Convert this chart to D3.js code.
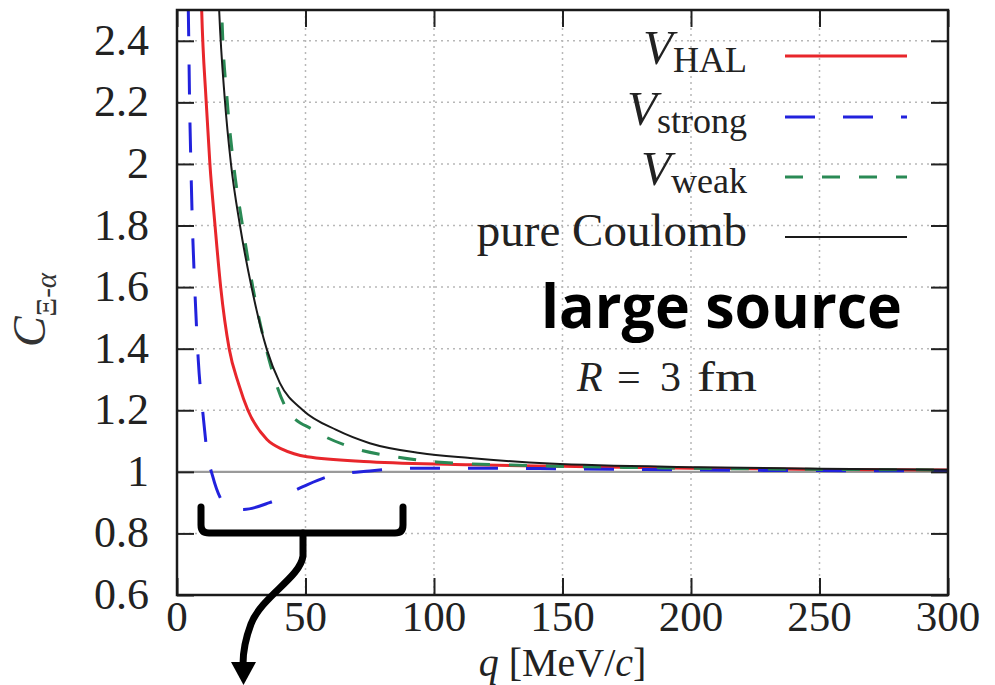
<!DOCTYPE html>
<html>
<head>
<meta charset="utf-8">
<script src="https://cdn.jsdelivr.net/npm/d3@7/dist/d3.min.js"></script>
<style>
  html, body { margin: 0; padding: 0; background: #fff; }
  svg { display: block; }
  .serif { font-family: 'Liberation Serif', 'DejaVu Serif', serif; }
</style>
</head>
<body>
<svg id="chart" width="995" height="685"></svg>
<script>
// ---- data ----
const xTicks = [0, 50, 100, 150, 200, 250, 300];
const yTicks = [0.6, 0.8, 1, 1.2, 1.4, 1.6, 1.8, 2, 2.2, 2.4];
const xGrid = [50, 100, 150, 200, 250];
const yGrid = [0.8, 1.2, 1.4, 1.6, 1.8, 2, 2.2, 2.4];

const qHAL = [9.0, 9.6, 11.3, 12.8, 14.8, 17.0, 20.3, 24.0, 27.6, 35, 41.3, 50.6, 75, 114, 150, 200, 250, 300];
const cHAL = [2.7, 2.5, 2.21, 2.0, 1.8, 1.6, 1.40, 1.285, 1.20, 1.105, 1.072, 1.049, 1.033, 1.023, 1.018, 1.012, 1.008, 1.006];

const qStrong = [3.6, 4.4, 4.9, 5.4, 6.0, 6.9, 8.3, 10.2, 11.6, 13.9, 18, 22, 26, 36, 49, 59.5, 75, 95, 120, 150, 200, 250, 300];
const cStrong = [2.7, 2.5, 2.2, 2.0, 1.8, 1.6, 1.36, 1.18, 1.07, 0.985, 0.90, 0.878, 0.878, 0.90, 0.952, 0.986, 1.003, 1.012, 1.012, 1.010, 1.006, 1.004, 1.003];

const qWeak = [16.8, 17.4, 19.5, 22, 25.5, 29.5, 35, 43, 53, 67, 85.6, 101, 130, 170, 220, 300];
const cWeak = [2.7, 2.5, 2.21, 2.0, 1.8, 1.6, 1.39, 1.20, 1.136, 1.082, 1.048, 1.032, 1.022, 1.015, 1.010, 1.006];

const qCoul = [15.5, 16.4, 18.6, 21, 24.5, 29, 35, 40, 49, 62, 75, 94.5, 114, 145, 203, 250, 300];
const cCoul = [2.7, 2.5, 2.21, 2.0, 1.8, 1.6, 1.396, 1.289, 1.20, 1.136, 1.093, 1.061, 1.045, 1.027, 1.015, 1.010, 1.007];

const seriesNames = ["HAL", "strong", "weak", "pure Coulomb"];
const seriesColors = ["#e8262b", "#2222dd", "#2a8a55", "#1a1a1a"];

// ---- layout ----
const svg = d3.select("#chart");
const L = 177, R = 948, T = 10, B = 595;
const x = d3.scaleLinear().domain([0, 300]).range([L, R]);
const y = d3.scaleLinear().domain([0.6, 2.5]).range([B, T]);

svg.append("defs").append("clipPath").attr("id", "clip")
  .append("rect").attr("x", L).attr("y", T).attr("width", R - L).attr("height", B - T);

// grid
const grid = svg.append("g").attr("stroke", "#b8b8b8").attr("stroke-width", 1.5)
  .attr("stroke-dasharray", "2,4");
grid.selectAll("line.vx").data(xGrid).join("line").attr("class", "vx")
  .attr("x1", d => x(d)).attr("x2", d => x(d)).attr("y1", T).attr("y2", B);
grid.selectAll("line.hy").data(yGrid).join("line").attr("class", "hy")
  .attr("y1", d => y(d)).attr("y2", d => y(d)).attr("x1", L).attr("x2", R);

// line at 1
svg.append("line").attr("x1", L).attr("x2", R).attr("y1", y(1)).attr("y2", y(1))
  .attr("stroke", "#9a9a9a").attr("stroke-width", 2.2);

// curves
const mk = (qs, cs) => qs.map((q, i) => [q, cs[i]]);
const line = d3.line().x(d => x(d[0])).y(d => y(d[1])).curve(d3.curveMonotoneX);
const curves = [
  {data: mk(qHAL, cHAL), color: seriesColors[0], w: 3, dash: null},
  {data: mk(qStrong, cStrong), color: seriesColors[1], w: 3, dash: "30,28"},
  {data: mk(qWeak, cWeak), color: seriesColors[2], w: 3, dash: "18,19"},
  {data: mk(qCoul, cCoul), color: seriesColors[3], w: 2, dash: null}
];
const cg = svg.append("g").attr("clip-path", "url(#clip)");
curves.forEach(c => {
  cg.append("path").attr("d", line(c.data)).attr("fill", "none")
    .attr("stroke", c.color).attr("stroke-width", c.w)
    .attr("stroke-dasharray", c.dash);
});

// axes (ticks inward, mirrored; labels drawn separately)
const tk = 17;
const axes = [
  svg.append("g").attr("transform", `translate(0,${B})`).call(d3.axisBottom(x).tickValues(xTicks).tickSize(-tk).tickFormat("")),
  svg.append("g").attr("transform", `translate(${L},0)`).call(d3.axisLeft(y).tickValues(yTicks).tickSize(-tk).tickFormat("")),
  svg.append("g").attr("transform", `translate(0,${T})`).call(d3.axisTop(x).tickValues(xTicks).tickSize(-tk).tickFormat("")),
  svg.append("g").attr("transform", `translate(${R},0)`).call(d3.axisRight(y).tickValues(yTicks).tickSize(-tk).tickFormat(""))
];
axes.forEach(g => {
  g.select(".domain").remove();
  g.selectAll(".tick text").remove();
  g.selectAll(".tick line").attr("stroke", "#222").attr("stroke-width", 2);
});

// tick labels
svg.append("g").selectAll("text").data(xTicks).join("text")
  .attr("class", "serif").attr("x", d => x(d)).attr("y", 631)
  .attr("text-anchor", "middle").attr("font-size", 43).attr("fill", "#222")
  .text(d => d3.format("d")(d));
svg.append("g").selectAll("text").data(yTicks).join("text")
  .attr("class", "serif").attr("x", 149).attr("y", d => y(d) + 14)
  .attr("text-anchor", "end").attr("font-size", 44).attr("fill", "#222")
  .text(d => d3.format("")(d));

// frame
svg.append("rect").attr("x", L).attr("y", T).attr("width", R - L).attr("height", B - T)
  .attr("fill", "none").attr("stroke", "#1a1a1a").attr("stroke-width", 2.5);

// axis titles
const xt = svg.append("text").attr("class", "serif").attr("x", (L + R) / 2).attr("y", 676)
  .attr("text-anchor", "middle").attr("font-size", 40).attr("fill", "#222");
xt.append("tspan").attr("font-style", "italic").text("q");
xt.append("tspan").text(" [MeV/");
xt.append("tspan").attr("font-style", "italic").text("c");
xt.append("tspan").text("]");

const yt = svg.append("text").attr("class", "serif").attr("transform", "translate(45,310) rotate(-90)")
  .attr("text-anchor", "middle").attr("fill", "#333");
yt.append("tspan").attr("font-style", "italic").attr("font-size", 46).text("C");
yt.append("tspan").attr("font-size", 29).attr("dy", 11).text("Ξ-");
yt.append("tspan").attr("font-size", 29).attr("font-style", "italic").text("α");

// legend
const legY = [56, 117, 177, 237];
const lg = svg.append("g");
seriesNames.forEach((n, i) => {
  const t = lg.append("text").attr("class", "serif").attr("x", 747).attr("text-anchor", "end")
    .attr("fill", "#222");
  if (i < 3) {
    t.attr("y", legY[i] + 8);
    t.append("tspan").attr("font-style", "italic").attr("font-size", 49).text("V");
    t.append("tspan").attr("font-size", 36).attr("dy", 8).text(n);
  } else {
    t.attr("y", legY[i] + 9).attr("font-size", 47).text(n);
  }
  lg.append("line").attr("x1", 785).attr("x2", 907).attr("y1", legY[i]).attr("y2", legY[i])
    .attr("stroke", curves[i].color).attr("stroke-width", curves[i].w)
    .attr("stroke-dasharray", curves[i].dash);
});

// annotations
svg.append("text").attr("x", 541).attr("y", 328)
  .style("font-family", "'Open Sans', 'Noto Sans', sans-serif").attr("font-weight", 700)
  .attr("font-size", 60).attr("textLength", 361).attr("lengthAdjust", "spacingAndGlyphs")
  .attr("fill", "#000").text("large source");

const rt = svg.append("text").attr("class", "serif").attr("y", 391)
  .attr("font-size", 42).attr("fill", "#222");
rt.append("tspan").attr("x", 577).attr("font-style", "italic").text("R");
rt.append("tspan").attr("x", 617).text("=");
rt.append("tspan").attr("x", 660).text("3");
rt.append("tspan").attr("x", 697).attr("textLength", 60).attr("lengthAdjust", "spacingAndGlyphs").text("fm");

// bracket and arrow
const ann = svg.append("g").attr("fill", "none").attr("stroke", "#000")
  .attr("stroke-width", 7).attr("stroke-linecap", "round").attr("stroke-linejoin", "round");
ann.append("path").attr("d", "M201,507 L201,525 Q201,533 209,533 L395,533 Q403,533 403,525 L403,507");
ann.append("path").attr("d", "M303,533 L303,556 C300,578 262,596 251,624 C245,640 243,650 243,664");
svg.append("path").attr("d", "M231,662 L256,662 L243.5,685 Z").attr("fill", "#000");
</script>
</body>
</html>
